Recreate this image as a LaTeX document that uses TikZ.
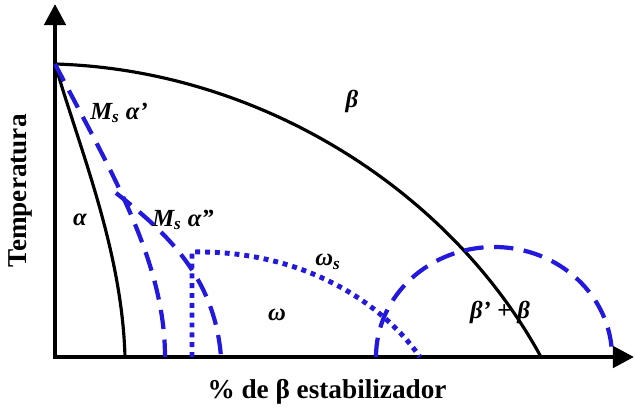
\documentclass[tikz,border=0pt]{standalone}
\usepackage{fontspec}
\setmainfont{Liberation Serif}
\usetikzlibrary{arrows.meta}
\definecolor{azul}{RGB}{35,25,220}

\begin{document}
\begin{tikzpicture}[x=0.02cm, y=-0.02cm, >={Triangle[length=12pt,width=12pt]},
    eje/.style={line width=2.6pt},
    curva/.style={line width=1.8pt},
    rayas/.style={azul, line width=2.4pt, dash pattern=on 11pt off 6pt},
    puntos/.style={azul, line width=2.8pt, dash pattern=on 2.8pt off 2.8pt},
    fase/.style={font=\fontsize{14}{16}\selectfont\bfseries\itshape},
    titulo/.style={font=\fontsize{15.5}{18}\selectfont\bfseries}]
    \useasboundingbox (0,0) rectangle (635,408);

    \coordinate (T) at (55,64);
    \coordinate (Ramal) at (116,193);

    % ejes
    \draw[eje,->] (55,359) -- (55,4);
    \draw[eje,->] (53,357) -- (634,357);

    % transus beta y limite alfa
    \draw[curva] (T) .. controls (260,70) and (450,190) .. (541,357);
    \draw[curva] (T) .. controls (80,150) and (122,250) .. (125,357);

    % Ms alfa' y Ms alfa''
    \draw[rayas] (T) .. controls (110,170) and (165,260) .. (165,357);
    \draw[rayas] (Ramal) .. controls (170,235) and (215,280) .. (221,357);

    % omega_s
    \draw[puntos] (192,357) -- (192,252) .. controls (300,250) and (380,300) .. (420,357);

    % beta' + beta
    \draw[rayas] (376,357) arc[start angle=180, end angle=360, x radius=118, y radius=110];

    % etiquetas
    \node[fase] (beta) at (352,101) {β};
    \node[fase] (msa1) at (119,113) {M\textsubscript{s} α’};
    \node[fase] (alfa) at (80,220) {α};
    \node[fase] (msa2) at (183,220) {M\textsubscript{s} α”};
    \node[fase] (omegas) at (328,262) {ω\textsubscript{s}};
    \node[fase] (omega) at (277,315) {ω};
    \node[fase] (betas) at (500,312) {β’ + β};

    \node[titulo, rotate=90] (temp) at (20,191) {Temperatura};
    \node[titulo] (comp) at (327,392) {\% de β estabilizador};
\end{tikzpicture}
\end{document}
